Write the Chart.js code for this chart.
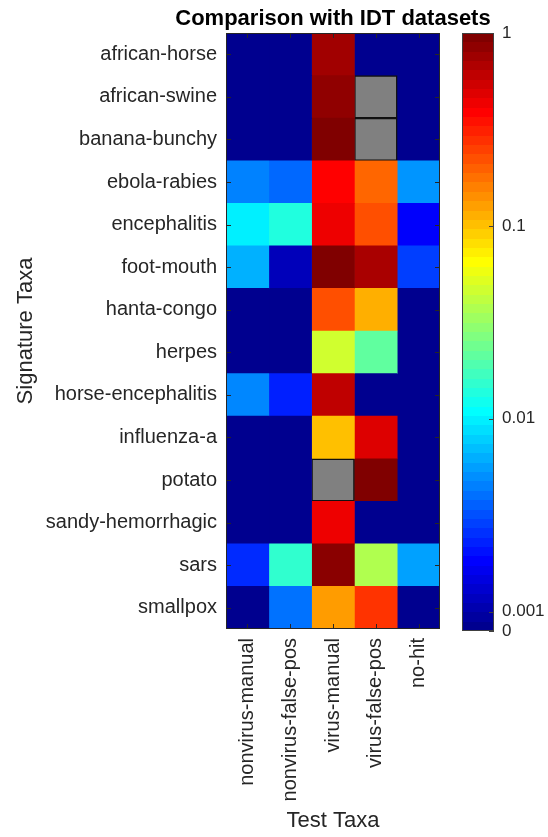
<!DOCTYPE html>
<html><head><meta charset="utf-8">
<script src="https://cdn.jsdelivr.net/npm/chart.js@4.4.1/dist/chart.umd.min.js"></script>
<style>
html,body{margin:0;padding:0;background:#fff;}
#wrap{position:relative;width:548px;height:837px;overflow:hidden;}
#wrap canvas{position:absolute;left:0;top:0;}
#title{position:absolute;left:133px;width:400px;top:5px;text-align:center;font:bold 22px/26px "Liberation Sans", Arial, Helvetica, sans-serif;color:#000;white-space:nowrap;}
</style></head><body>
<div id="wrap"><canvas id="heat" width="548" height="837"></canvas><canvas id="cbar" width="548" height="837"></canvas><div id="title">Comparison with IDT datasets</div></div>
<script>
// ---- data ----
const signatureTaxa = ['african-horse','african-swine','banana-bunchy','ebola-rabies','encephalitis','foot-mouth','hanta-congo','herpes','horse-encephalitis','influenza-a','potato','sandy-hemorrhagic','sars','smallpox'];
const testTaxa = ['nonvirus-manual','nonvirus-false-pos','virus-manual','virus-false-pos','no-hit'];
// one array per test taxon (column), values in signature-taxa order; null = no data (grey)
const nonvirusManual   = [0, 0, 0, 0.0048, 0.0104, 0.0067, 0, 0, 0.0050, 0, 0, 0, 0.0026, 0];
const nonvirusFalsePos = [0, 0, 0, 0.0040, 0.0144, 0.0012, 0, 0, 0.0024, 0, 0, 0, 0.0162, 0.0043];
const virusManual      = [0.79, 0.89, 1.0, 0.41, 0.46, 1.0, 0.235, 0.0495, 0.64, 0.107, null, 0.46, 0.93, 0.138];
const virusFalsePos    = [0, null, null, 0.20, 0.235, 0.75, 0.12, 0.0226, 0, 0.52, 1.0, 0, 0.0396, 0.287];
const noHit            = [0, 0, 0, 0.0055, 0.0019, 0.0030, 0, 0, 0, 0, 0, 0, 0.0060, 0];
const colorbarTicks = [0, 0.001, 0.01, 0.1, 1];
const colorbarTickLabels = ['0', '0.001', '0.01', '0.1', '1'];
const logMin = -3.1, logMax = 0;

const series = [nonvirusManual, nonvirusFalsePos, virusManual, virusFalsePos, noHit];
const FONT = '"Liberation Sans", Arial, Helvetica, sans-serif';
const TXT = '#262626';

function toLog(v){ return v <= 0 ? logMin : Math.log10(v); }
function clamp(x){ return Math.max(0, Math.min(1, x)); }
function jet(t){
  const r = clamp(1.5 - Math.abs(4*t - 3));
  const g = clamp(1.5 - Math.abs(4*t - 2));
  const b = clamp(1.5 - Math.abs(4*t - 1));
  return 'rgb(' + Math.round(r*255) + ',' + Math.round(g*255) + ',' + Math.round(b*255) + ')';
}
function colorFor(v){
  if (v === null) return 'rgb(128,128,128)';
  const t = (toLog(v) - logMin) / (logMax - logMin);
  return jet(Math.max(t, 1/64));
}

const frameTicks = {
  id: 'frameTicks',
  afterDatasetsDraw(chart, args, opts){
    const {ctx, chartArea: a} = chart;
    ctx.save();
    ctx.strokeStyle = opts.color || '#262626';
    ctx.lineWidth = 1;
    const L = 5;
    if (opts.xTicks){
      const xs = chart.scales.x;
      xs.ticks.forEach(tk => {
        const px = Math.round(xs.getPixelForValue(tk.value)) + 0.5;
        ctx.beginPath(); ctx.moveTo(px, a.top); ctx.lineTo(px, a.top + L);
        ctx.moveTo(px, a.bottom); ctx.lineTo(px, a.bottom - L); ctx.stroke();
      });
    }
    const ys = chart.scales.y;
    ys.ticks.forEach((tk, i) => {
      const py = Math.round(ys.getPixelForTick(i)) + 0.5;
      ctx.beginPath();
      if (opts.yLeft){ ctx.moveTo(a.left, py); ctx.lineTo(a.left + L, py); }
      ctx.moveTo(a.right, py); ctx.lineTo(a.right - L, py);
      ctx.stroke();
    });
    ctx.strokeRect(Math.round(a.left) + 0.5, Math.round(a.top) + 0.5, Math.round(a.right - a.left) - 1, Math.round(a.bottom - a.top) - 1);
    ctx.restore();
  }
};

new Chart(document.getElementById('heat'), {
  type: 'bar',
  data: {
    labels: signatureTaxa,
    datasets: series.map((vals, c) => ({
      label: testTaxa[c],
      data: vals.map(() => 1),
      backgroundColor: vals.map(colorFor),
      borderColor: vals.map(v => v === null ? '#111' : 'rgba(0,0,0,0)'),
      borderWidth: vals.map(v => v === null ? 1.5 : 0),
      borderSkipped: false,
      categoryPercentage: 1,
      barPercentage: 1
    }))
  },
  options: {
    indexAxis: 'y',
    responsive: false,
    animation: false,
    layout: { padding: { left: 0, right: 108, top: 33, bottom: 0 } },
    plugins: {
      legend: { display: false },
      tooltip: { enabled: false },
      title: { display: false },
      frameTicks: { xTicks: true, yLeft: true, color: '#262626' }
    },
    scales: {
      x: {
        type: 'linear', stacked: true, min: 0, max: 5, position: 'bottom',
        afterBuildTicks: s => { s.ticks = testTaxa.map((_, i) => ({ value: i + 0.5 })); },
        afterFit: s => { s.height = 837 - 629; },
        ticks: { autoSkip: false, minRotation: 90, maxRotation: 90, padding: 9, color: TXT,
                 font: { family: FONT, size: 20 }, callback: (v) => testTaxa[Math.round(v - 0.5)] },
        grid: { display: false, drawTicks: false },
        border: { display: false },
        title: { display: true, text: 'Test Taxa', color: TXT, font: { family: FONT, size: 22 }, padding: { top: 0, bottom: 3 } }
      },
      y: {
        type: 'category', stacked: true,
        afterFit: s => { s.width = 226; },
        ticks: { autoSkip: false, padding: 9, color: TXT, font: { family: FONT, size: 20 } },
        grid: { display: false, drawTicks: false },
        border: { display: false },
        title: { display: true, text: 'Signature Taxa', color: TXT, font: { family: FONT, size: 22 }, padding: { top: 13, bottom: 0 } }
      }
    }
  },
  plugins: [frameTicks]
});

function jetGradient(chart){
  const { ctx, chartArea, scales } = chart;
  if (!chartArea || !scales.y) return 'rgb(0,0,143)';
  const y0 = scales.y.getPixelForValue(logMin), y1 = scales.y.getPixelForValue(logMax);
  const g = ctx.createLinearGradient(0, y0, 0, y1);
  for (let k = 0; k < 64; k++){
    const c = jet((k + 1) / 64);
    g.addColorStop(k / 64, c);
    g.addColorStop((k + 1) / 64, c);
  }
  return g;
}

new Chart(document.getElementById('cbar'), {
  type: 'bar',
  data: {
    labels: ['colorbar'],
    datasets: [{ data: [[logMin, logMax]], backgroundColor: ctx => jetGradient(ctx.chart),
                 borderWidth: 0, borderSkipped: false, categoryPercentage: 1, barPercentage: 1 }]
  },
  options: {
    responsive: false,
    animation: false,
    layout: { padding: { left: 462, right: 0, top: 33, bottom: 837 - 631 } },
    plugins: { legend: { display: false }, tooltip: { enabled: false }, title: { display: false },
               frameTicks: { xTicks: false, yLeft: false, color: '#404040' } },
    scales: {
      x: { display: false },
      y: {
        type: 'linear', position: 'right', min: logMin, max: logMax,
        afterBuildTicks: s => { s.ticks = colorbarTicks.map(v => ({ value: toLog(v) })); },
        afterFit: s => { s.width = 54; },
        ticks: { autoSkip: false, padding: 8, color: TXT, font: { family: FONT, size: 17 },
                 callback: (v, i) => colorbarTickLabels[i] },
        grid: { display: false, drawTicks: false },
        border: { display: false }
      }
    }
  },
  plugins: [frameTicks]
});
</script>
</body></html>
